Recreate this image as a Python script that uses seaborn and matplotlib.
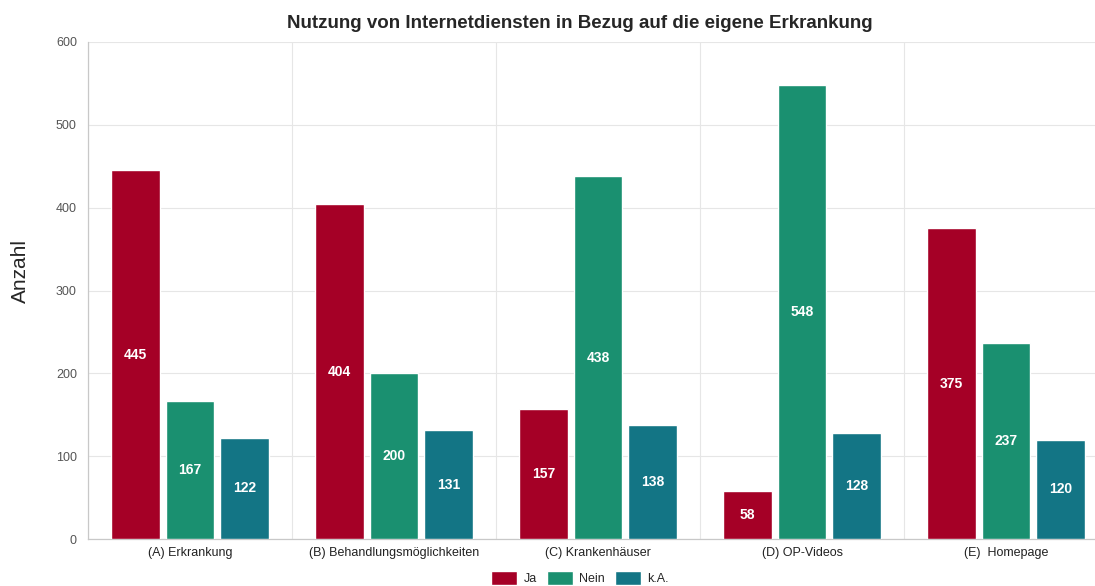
import pandas as pd
import matplotlib
matplotlib.use("Agg")
import matplotlib.pyplot as plt
import seaborn as sns

categories = [
    "(A) Erkrankung",
    "(B) Behandlungsmöglichkeiten",
    "(C) Krankenhäuser",
    "(D) OP-Videos",
    "(E)  Homepage",
]
ja = [445, 404, 157, 58, 375]
nein = [167, 200, 438, 548, 237]
ka = [122, 131, 138, 128, 120]
answers = ["Ja", "Nein", "k.A."]
colors = ["#a50026", "#1a9070", "#137585"]

df = pd.DataFrame(
    {
        "Kategorie": categories * 3,
        "Antwort": [a for a in answers for _ in categories],
        "Anzahl": ja + nein + ka,
    }
)

sns.set_style("white")
plt.rcParams["font.family"] = ["Liberation Sans", "DejaVu Sans"]

fig = plt.figure(figsize=(10.95, 5.86), dpi=100)
ax = fig.add_axes([88 / 1095, 47 / 586, 1020 / 1095, 497 / 586])

sns.barplot(
    data=df,
    x="Kategorie",
    y="Anzahl",
    hue="Antwort",
    hue_order=answers,
    palette=colors,
    width=0.8,
    gap=0.1,
    saturation=1,
    ax=ax,
    zorder=3,
)

# value labels in the middle of the bars
for container in ax.containers:
    labels = [f"{int(v)}" for v in container.datavalues]
    ax.bar_label(
        container,
        labels=labels,
        label_type="center",
        color="white",
        fontsize=10,
        fontweight="bold",
    )

ax.set_ylim(0, 600)
ax.set_xlim(-0.5, len(categories) - 0.5)
ax.set_yticks(range(0, 601, 100))
ax.set_xticks(range(len(categories)))
ax.set_xticks([i - 0.5 for i in range(len(categories) + 1)], minor=True)
ax.grid(axis="y", color="#e6e6e6", linewidth=0.8, zorder=0)
ax.grid(axis="x", which="minor", color="#e6e6e6", linewidth=0.8, zorder=0)
ax.grid(axis="x", which="major", visible=False)
ax.tick_params(axis="x", which="both", length=0, labelsize=9, pad=6, labelcolor="#222222")
ax.tick_params(axis="y", length=0, labelsize=9, labelcolor="#555555", pad=8)

for side in ["top", "right"]:
    ax.spines[side].set_visible(False)
for side in ["left", "bottom"]:
    ax.spines[side].set_color("#c8c8c8")
    ax.spines[side].set_linewidth(0.9)

ax.set_xlabel("")
ax.set_ylabel("")
fig.text(20 / 1095, (586 - 271) / 586, "Anzahl", fontsize=15,
         rotation=90, ha="center", va="center")
ax.set_title(
    "Nutzung von Internetdiensten in Bezug auf die eigene Erkrankung",
    fontsize=13.5,
    fontweight="bold",
    pad=10,
    x=(580 - 88) / 1020,
)

handles, lbls = ax.get_legend_handles_labels()
ax.legend_.remove()
fig.legend(
    handles,
    lbls,
    loc="center",
    bbox_to_anchor=(580 / 1095, (586 - 578) / 586),
    ncol=3,
    frameon=False,
    fontsize=9,
    handlelength=2.1,
    handleheight=1.4,
    handletextpad=0.5,
    columnspacing=0.8,
    borderpad=0,
)

fig.savefig("out.png", dpi=100)
